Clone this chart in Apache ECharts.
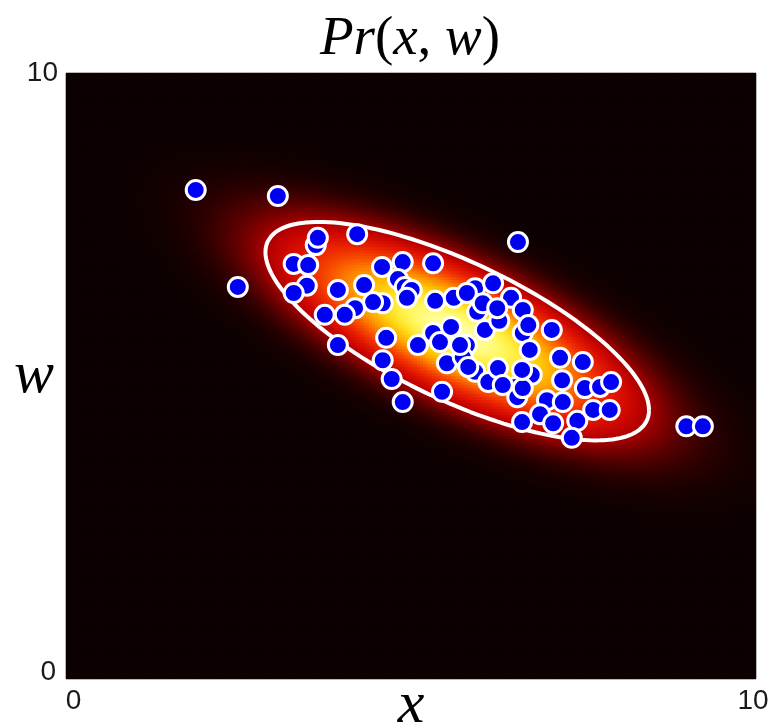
<!DOCTYPE html>
<html>
<head>
<meta charset="utf-8">
<script src="https://cdn.jsdelivr.net/npm/echarts@6/dist/echarts.min.js"></script>
<style>
html,body{margin:0;padding:0;background:#ffffff;}
#chart{width:770px;height:728px;}
</style>
</head>
<body>
<div id="chart"></div>
<script>
// ---- data ----
const xPoints = [1.88,3.07,2.49,6.55,8.99,9.23,4.22,3.62,3.65,3.30,3.51,3.49,3.30,3.94,4.32,4.58,4.88,5.32,4.81,4.91,
  5.01,4.94,4.59,4.45,4.19,4.04,3.75,3.94,4.64,4.59,4.72,4.88,5.45,5.35,5.62,5.93,6.19,5.10,5.32,5.42,
  5.58,5.81,5.96,6.07,5.52,5.75,5.93,6.12,6.28,6.45,6.62,7.04,6.62,6.72,7.16,7.49,7.19,7.52,7.74,7.90,
  6.26,6.51,6.54,6.75,6.62,6.97,7.20,7.64,7.88,6.61,6.87,7.06,7.41,7.33,5.81,6.04,5.71,5.83,6.33,6.61,
  6.70,6.25];
const wPoints = [8.07,7.97,6.47,7.21,4.17,4.17,7.34,7.16,7.28,6.85,6.83,6.49,6.37,6.42,6.50,6.80,6.88,6.86,6.60,6.47,
  6.42,6.29,6.20,6.22,6.12,6.01,6.01,5.51,5.63,5.26,4.95,4.57,4.74,6.24,6.29,6.45,6.53,5.51,5.71,5.56,
  5.81,5.51,6.06,5.76,5.21,5.31,5.07,4.90,5.91,6.29,6.09,5.76,5.71,5.43,5.30,5.23,4.93,4.80,4.82,4.90,
  5.13,4.82,4.65,5.02,4.80,4.60,4.57,4.44,4.44,4.24,4.37,4.22,4.26,3.98,6.37,6.20,5.51,5.15,4.85,5.10,
  5.84,6.12];
// fitted normal distribution Pr(x,w), parameters
const gaussMean = [5.67, 5.74];
const gaussCov = [[1.931, -0.905], [-0.905, 0.8125]];
const contourRadius = 2;          // Mahalanobis radius of the drawn ellipse
const axisTicks = [0, 10];
const titleParts = ['Pr', '(', 'x', ', ', 'w', ')'];
const xName = 'x';
const yName = 'w';

// ---- colour scale (style) : density level -> colour ----
const colourAnchors = [
  [0.000, [12, 1, 1]], [0.010, [22, 0, 0]], [0.025, [40, 0, 0]], [0.05, [72, 0, 0]],
  [0.09, [120, 0, 0]], [0.135, [172, 0, 0]], [0.20, [208, 8, 0]], [0.30, [234, 35, 0]],
  [0.40, [247, 75, 0]], [0.50, [253, 125, 0]], [0.60, [255, 170, 0]], [0.70, [255, 205, 10]],
  [0.80, [255, 232, 50]], [0.90, [255, 248, 100]], [1.00, [255, 255, 170]]
];
function colourAt(v) {
  for (let k = 1; k < colourAnchors.length; k++) {
    const [v1, c1] = colourAnchors[k];
    const [v0, c0] = colourAnchors[k - 1];
    if (v <= v1) {
      const t = (v - v0) / (v1 - v0);
      const c = c0.map((q, n) => Math.round(q + (c1[n] - q) * t));
      return 'rgb(' + c.join(',') + ')';
    }
  }
  return 'rgb(255,255,170)';
}
const colourList = Array.from({length: 201}, (_, k) => colourAt(k / 200));

// ---- derived structures ----
const nx = 230, ny = 202;
const xCats = Array.from({length: nx}, (_, i) => i);
const yCats = Array.from({length: ny}, (_, j) => j);
const a = gaussCov[0][0], b = gaussCov[0][1], d = gaussCov[1][1];
const det = a * d - b * b;
const ia = d / det, ib = -b / det, id = a / det;
const xMin = axisTicks[0], xMax = axisTicks[1];
const heat = [];
for (let i = 0; i < nx; i++) {
  const x = xMin + (i + 0.5) / nx * (xMax - xMin);
  for (let j = 0; j < ny; j++) {
    const w = xMin + (j + 0.5) / ny * (xMax - xMin);
    const dx = x - gaussMean[0], dw = w - gaussMean[1];
    const m2 = ia * dx * dx + 2 * ib * dx * dw + id * dw * dw;
    heat.push([i, j, Math.exp(-0.5 * m2)]);
  }
}
const l11 = Math.sqrt(a), l21 = b / l11, l22 = Math.sqrt(d - l21 * l21);
const ellipse = [];
for (let k = 0; k <= 180; k++) {
  const t = k / 180 * Math.PI * 2;
  const c = Math.cos(t), s = Math.sin(t);
  ellipse.push([gaussMean[0] + contourRadius * l11 * c,
                gaussMean[1] + contourRadius * (l21 * c + l22 * s)]);
}
const scatter = xPoints.map((x, i) => [x, wPoints[i]]);

const tickFont = "'Liberation Sans',Arial,sans-serif";
const mathFont = "'Liberation Serif','Times New Roman',serif";
const G = {left: 66, top: 73, width: 690, height: 606};

const chart = echarts.init(document.getElementById('chart'), null, {renderer: 'canvas'});
chart.setOption({
  animation: false,
  backgroundColor: '#ffffff',
  title: {
    text: '{i|' + titleParts[0] + '}{n|' + titleParts[1] + '}{i|' + titleParts[2] + '}{n|' + titleParts[3] + '}{i|' + titleParts[4] + '}{n|' + titleParts[5] + '}',
    left: 410, top: 12, padding: 0, textAlign: 'center',
    textStyle: {
      fontWeight: 'normal',
      rich: {
        i: {fontFamily: mathFont, fontStyle: 'italic', fontWeight: 'normal', fontSize: 55, color: '#000'},
        n: {fontFamily: mathFont, fontWeight: 'normal', fontSize: 55, color: '#000'}
      }
    }
  },
  grid: [
    Object.assign({outerBoundsMode: 'none', containLabel: false}, G),
    Object.assign({outerBoundsMode: 'none', containLabel: false}, G)
  ],
  xAxis: [
    {gridIndex: 0, type: 'category', data: xCats, show: false},
    {gridIndex: 1, type: 'value', min: axisTicks[0], max: axisTicks[1], interval: axisTicks[1] - axisTicks[0],
     axisLine: {show: false}, axisTick: {show: false}, splitLine: {show: false},
     axisLabel: {margin: 8, showMinLabel: true, showMaxLabel: true,
       formatter: v => v === axisTicks[0] ? '{a|' + v + '}' : '{b|' + v + '}',
       rich: {
         a: {fontFamily: tickFont, fontSize: 28, color: '#1a1a1a', padding: [0, 0, 0, 15]},
         b: {fontFamily: tickFont, fontSize: 28, color: '#1a1a1a', padding: [0, 6, 0, 0]}
       }},
     name: xName, nameLocation: 'middle', nameGap: 27, nameMoveOverlap: false,
     nameTextStyle: {fontFamily: mathFont, fontStyle: 'italic', fontSize: 60, color: '#000', verticalAlign: 'middle'}}
  ],
  yAxis: [
    {gridIndex: 0, type: 'category', data: yCats, show: false},
    {gridIndex: 1, type: 'value', position: 'left', offset: 0, min: axisTicks[0], max: axisTicks[1], interval: axisTicks[1] - axisTicks[0],
     axisLine: {show: false}, axisTick: {show: false}, splitLine: {show: false},
     axisLabel: {margin: 8, showMinLabel: true, showMaxLabel: true,
       formatter: v => v === axisTicks[1] ? String(v) : '',
       fontFamily: tickFont, fontSize: 28, color: '#1a1a1a'},
     name: yName, nameLocation: 'middle', nameRotate: 0, nameGap: 12, nameMoveOverlap: false,
     nameTextStyle: {fontFamily: mathFont, fontStyle: 'italic', fontSize: 60, color: '#000', padding: [0, 0, 6, 0]}},
    {gridIndex: 1, type: 'value', position: 'left', offset: 0, min: axisTicks[0], max: axisTicks[1], interval: axisTicks[1] - axisTicks[0],
     axisLine: {show: false}, axisTick: {show: false}, splitLine: {show: false},
     axisLabel: {margin: 10, showMinLabel: true, showMaxLabel: true,
       formatter: v => v === axisTicks[0] ? String(v) : '',
       verticalAlign: 'bottom', lineHeight: 14,
       fontFamily: tickFont, fontSize: 28, color: '#1a1a1a'}}
  ],
  visualMap: {
    type: 'continuous', show: false, seriesIndex: 0, dimension: 2, min: 0, max: 1,
    inRange: {color: colourList}
  },
  series: [
    {type: 'heatmap', xAxisIndex: 0, yAxisIndex: 0, data: heat, progressive: 0, silent: true,
     emphasis: {disabled: true}, itemStyle: {borderWidth: 0}, z: 1},
    {type: 'line', xAxisIndex: 1, yAxisIndex: 1, data: ellipse, showSymbol: false, symbol: 'none',
     silent: true, lineStyle: {color: '#ffffff', width: 4}, z: 3},
    {type: 'scatter', xAxisIndex: 1, yAxisIndex: 1, data: scatter, symbol: 'circle', symbolSize: 19,
     silent: true, itemStyle: {color: '#0000f5', borderColor: '#ffffff', borderWidth: 3, opacity: 1}, z: 5}
  ]
});
</script>
</body>
</html>
